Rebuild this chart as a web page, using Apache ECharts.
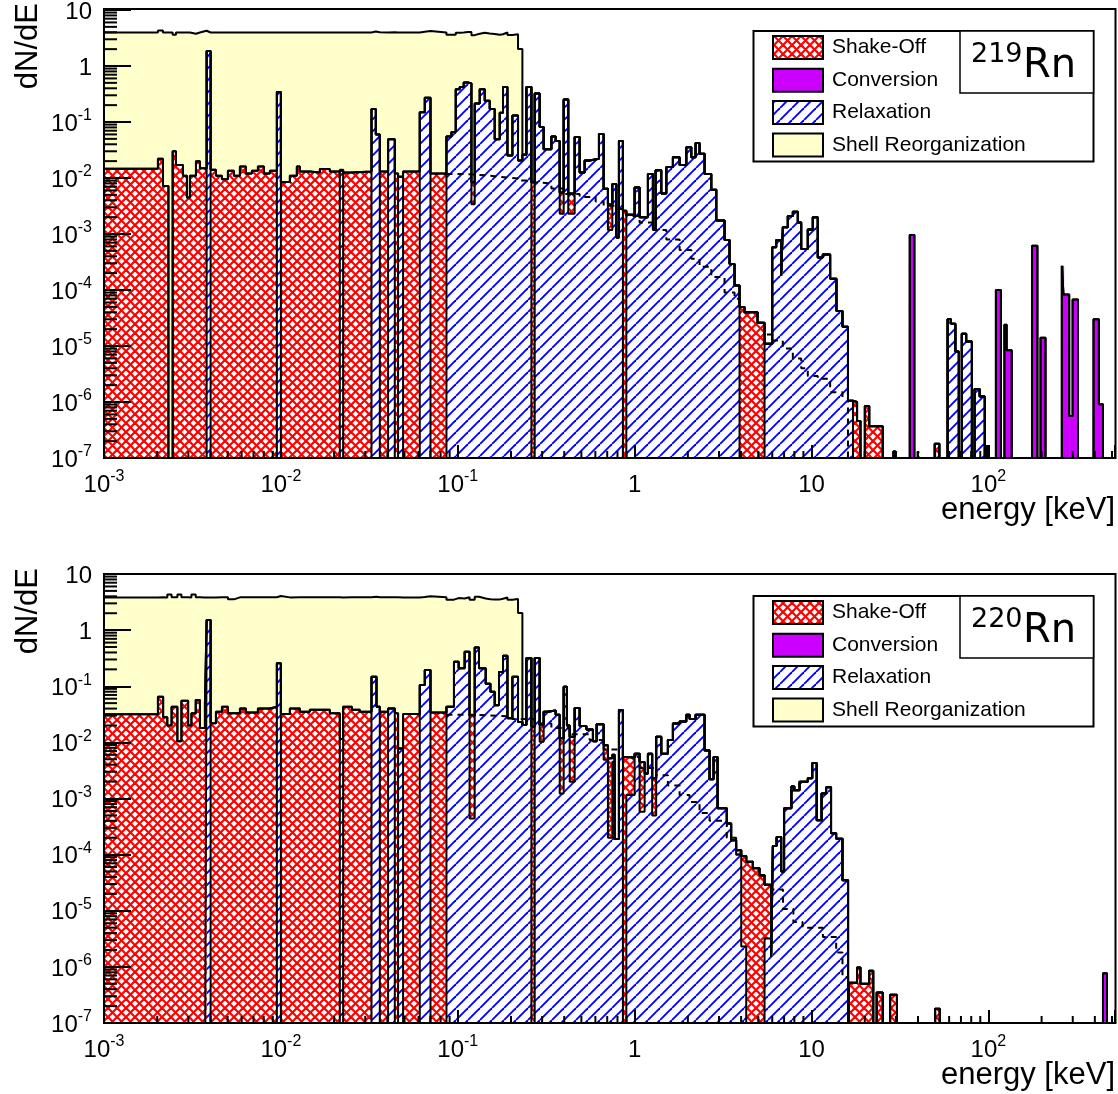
<!DOCTYPE html>
<html><head><meta charset="utf-8">
<script src="https://cdn.jsdelivr.net/npm/echarts@6/dist/echarts.min.js"></script>
<style>html,body{margin:0;padding:0;background:#fff}#c{width:1118px;height:1094px}</style>
</head><body><div id="c"></div>
<script>
// ---------------- data: histogram segments [E_low keV, E_high keV, dN/dE] ----------------
const legendNames = ['Shake-Off', 'Conversion', 'Relaxation', 'Shell Reorganization'];
const isotopeMass = ['219', '220'];
const xDecades = [0.001, 0.01, 0.1, 1, 10, 100];
const yDecades = [1e-7, 1e-6, 1e-5, 1e-4, 1e-3, 1e-2, 1e-1, 1];
const minorMultiples = [2, 3, 4, 5, 6, 7, 8, 9];

const relax219 = [
[0.003804,0.004007,1.86],[0.009493,0.01,0.345],[0.02154,0.02249,0.014],[0.03254,0.03441,0.17],
[0.03441,0.03625,0.06],[0.04039,0.04406,0.049],[0.04599,0.04909,0.0105],[0.06099,0.06511,0.15],
[0.06511,0.07013,0.27],[0.08632,0.09213,0.055],[0.09213,0.09743,0.066],[0.09743,0.1026,0.385],
[0.1026,0.1081,0.42],[0.1081,0.1143,0.51],[0.1143,0.1195,0.49],[0.1195,0.1247,0.0034],
[0.1247,0.1331,0.215],[0.1331,0.1421,0.385],[0.1421,0.1516,0.24],[0.1516,0.1618,0.17],
[0.1618,0.1727,0.049],[0.1727,0.1803,0.147],[0.1803,0.191,0.42],[0.191,0.2037,0.0251],
[0.2037,0.2192,0.13],[0.2192,0.232,0.0205],[0.232,0.2444,0.026],[0.2444,0.2609,0.42],
[0.2723,0.2905,0.323],[0.2905,0.306,0.081],[0.306,0.3384,0.0325],[0.3384,0.3578,0.055],
[0.3578,0.3771,0.046],[0.3771,0.3971,0.0023],[0.3971,0.4215,0.253],[0.4215,0.4581,0.0023],
[0.4581,0.4889,0.054],[0.4889,0.5218,0.0125],[0.5218,0.5569,0.0205],[0.5569,0.6286,0.022],
[0.6286,0.6681,0.061],[0.6681,0.7065,0.0064],[0.7065,0.7482,0.00118],[0.7482,0.788,0.0078],
[0.788,0.8153,0.00087],[0.8153,0.8586,0.046],[0.8977,1.0,0.0022],[1.0,1.067,0.0068],
[1.067,1.189,0.002],[1.189,1.269,0.0118],[1.269,1.314,0.00125],[1.314,1.415,0.0137],
[1.415,1.511,0.0053],[1.511,1.646,0.0157],[1.646,1.796,0.0234],[1.796,1.96,0.017],
[1.96,2.091,0.0354],[2.091,2.211,0.0234],[2.211,2.329,0.042],[2.329,2.486,0.027],
[2.486,2.713,0.0118],[2.713,2.895,0.0062],[2.895,3.225,0.00174],[3.225,3.441,0.00078],
[3.441,3.673,0.00029],[3.673,3.919,0.00012],[5.427,5.998,1.1e-5],[5.998,6.318,0.00058],
[6.318,6.742,0.00078],[6.742,6.884,0.00018],[6.884,7.346,0.00132],[7.346,7.843,0.0021],
[7.843,8.369,0.0025],[8.369,8.747,0.0016],[8.747,9.53,0.00054],[9.53,10.17,0.0012],
[10.17,10.85,0.002],[10.85,11.58,0.00038],[11.58,12.75,0.00043],[12.75,13.84,0.000159],
[13.84,14.97,4.2e-5],[14.97,16.08,2.2e-5],[16.08,17.16,1.05e-6],[58.83,61.48,3.0e-5],
[61.48,65.11,2.5e-5],[65.11,68.06,8e-6],[70.76,74.94,1.65e-5],[74.94,80.69,1.2e-5],
[83.56,89.28,1.7e-6],[89.28,95.43,1.25e-6]
];
const shake219 = [
[0.001,0.002018,0.0146],[0.002018,0.002154,0.022],[0.002154,0.002314,0.0072],[0.002444,0.002552,0.03],
[0.002552,0.002795,0.017],[0.002795,0.002944,0.011],[0.002944,0.00306,0.0045],[0.00306,0.00331,0.011],
[0.00331,0.003486,0.02],[0.003486,0.003804,0.015],[0.004007,0.004294,0.014],[0.004294,0.004642,0.011],
[0.004642,0.005018,0.0095],[0.005018,0.005427,0.0135],[0.005427,0.005867,0.011],[0.005867,0.006343,0.016],
[0.006343,0.006858,0.012],[0.006858,0.007416,0.0135],[0.007416,0.008017,0.016],[0.008017,0.00867,0.012],
[0.00867,0.009493,0.0135],[0.01,0.01124,0.0085],[0.01124,0.01231,0.011],[0.01231,0.0128,0.016],
[0.0128,0.01458,0.013],[0.01458,0.01661,0.0125],[0.01661,0.01891,0.0145],[0.01891,0.02154,0.013],
[0.02249,0.02518,0.0125],[0.02518,0.03254,0.013],[0.03625,0.04039,0.013],[0.04406,0.04599,0.012],
[0.04909,0.06099,0.013],[0.07013,0.08632,0.012],[0.1195,0.1247,0.005],[0.2609,0.2723,0.0084],
[0.3771,0.3971,0.0032],[0.4215,0.4581,0.003],[0.7065,0.7482,0.0022],[0.8586,0.8977,0.0026],
[3.919,4.182,4.95e-5],[4.182,4.954,4.0e-5],[4.954,5.427,2.6e-5],[17.16,18.10,1.0e-6],
[18.10,18.92,4.6e-7],[20.03,21.21,8.5e-7],[21.21,25.28,3.7e-7],[29.06,29.83,1.3e-7],
[39.92,40.64,1.3e-7],[49.73,52.87,1.8e-7],[98.33,100,1.7e-7]
];
const conv219 = [
[35.93,38.18,0.00096],[110.3,117.8,0.0001],[123.2,126.9,2.4e-5],[126.9,135.6,8.4e-6],
[176.6,189.4,0.00062],[197.2,210.5,1.4e-5],[260.2,266,0.00027],[266,286.5,8.3e-5],
[286.5,299.5,5.6e-7],[299.5,321.3,6.8e-5],[393.0,421.6,3.0e-5],[421.6,444.6,9.1e-7]
];
const shell219 = [
[0.001,0.002018,3.95],[0.002018,0.002154,4.3],[0.002154,0.002444,3.95],[0.002444,0.002552,3.6],
[0.002552,0.00306,3.95],[0.00306,0.00331,3.75],[0.00331,0.003486,3.95],[0.003486,0.003804,4.25],
[0.003804,0.004007,2.1],[0.004007,0.009493,3.95],[0.009493,0.01,3.6],[0.01,0.08632,3.95],
[0.08632,0.2192,3.55],[0.2192,0.232,2.0]
];
const dashed219 = [
[0.08632,0.1081,0.0118],[0.1081,0.1421,0.0112],[0.1421,0.1727,0.0105],[0.1727,0.2192,0.0098],
[0.2192,0.2609,0.009],[0.2609,0.2723,0.0084],[0.2723,0.3384,0.008],[0.3384,0.3971,0.0065],
[0.3971,0.4889,0.0052],[0.4889,0.6022,0.0046],[0.6022,0.6681,0.0038],[0.6681,0.788,0.0032],
[0.788,0.8586,0.0028],[0.8586,0.8977,0.0026],[0.8977,1.067,0.0021],[1.067,1.269,0.0016],
[1.269,1.511,0.00118],[1.511,1.796,0.0008],[1.796,2.091,0.00052],[2.091,2.329,0.00036],
[2.329,2.713,0.00026],[2.713,3.225,0.00017],[3.225,3.673,9e-5],[3.673,3.919,7e-5],
[3.919,4.182,4.95e-5],[4.182,4.954,4.0e-5],[4.954,5.427,2.6e-5],[5.427,5.998,1.6e-5],
[5.998,6.884,1.25e-5],[6.884,7.843,9e-6],[7.843,8.747,6e-6],[8.747,9.53,4e-6],
[9.53,10.85,2.9e-6],[10.85,12.75,2.6e-6],[12.75,14.97,1.5e-6],[14.97,16.08,1.2e-6]
];

const relax220 = [
[0.003804,0.004007,1.51],[0.009493,0.01,0.256],[0.02154,0.02249,0.0115],[0.03254,0.03473,0.148],
[0.03473,0.03625,0.043],[0.04039,0.04406,0.04],[0.04599,0.04909,0.0078],[0.06099,0.06511,0.105],
[0.06511,0.07013,0.195],[0.08632,0.0952,0.043],[0.0952,0.1012,0.274],[0.1012,0.1094,0.21],
[0.1094,0.1166,0.41],[0.1166,0.1247,0.00044],[0.1247,0.1319,0.49],[0.1319,0.1439,0.21],
[0.1439,0.153,0.111],[0.153,0.1618,0.08],[0.1618,0.1711,0.046],[0.1711,0.1803,0.18],
[0.1803,0.191,0.35],[0.191,0.2037,0.027],[0.2037,0.2192,0.148],[0.2192,0.232,0.023],
[0.232,0.2444,0.0203],[0.2444,0.2609,0.32],[0.2723,0.2905,0.32],[0.2905,0.306,0.0103],
[0.306,0.3225,0.035],[0.3225,0.3578,0.037],[0.3578,0.3771,0.031],[0.3771,0.3971,0.00123],
[0.3971,0.4143,0.098],[0.4143,0.4294,0.02],[0.4294,0.4581,0.00198],[0.4581,0.4889,0.041],
[0.4889,0.5336,0.0195],[0.5336,0.5812,0.017],[0.5812,0.61,0.0105],[0.61,0.6681,0.021],
[0.6681,0.7065,0.0049],[0.7065,0.7482,0.0002],[0.7482,0.7708,0.0045],[0.7708,0.8153,0.00019],
[0.8153,0.8586,0.0377],[0.8977,1.0,0.00115],[1.0,1.067,0.0063],[1.067,1.139,0.00058],
[1.139,1.189,0.0028],[1.189,1.257,0.0063],[1.257,1.324,0.0005],[1.324,1.415,0.0126],
[1.415,1.542,0.0063],[1.542,1.646,0.011],[1.646,1.796,0.0216],[1.796,1.96,0.0235],
[1.96,2.045,0.031],[2.045,2.211,0.026],[2.211,2.486,0.031],[2.486,2.653,0.0072],
[2.653,2.795,0.0022],[2.795,2.944,0.0055],[2.944,3.32,0.00067],[3.32,3.514,0.00036],
[3.514,3.75,0.00018],[3.75,4.007,0.0001],[4.007,4.276,2.3e-6],[5.427,5.92,3.2e-6],
[5.92,6.045,1.5e-6],[6.045,6.35,0.000142],[6.35,6.742,0.000207],[6.742,7.0,5e-5],
[7.0,7.7,0.00067],[7.7,8.0,0.00163],[8.0,8.56,0.0014],[8.56,9.53,0.00198],
[9.53,10.1,0.0023],[10.1,10.7,0.0043],[10.7,11.4,0.00041],[11.4,12.1,0.00123],
[12.1,12.9,0.00159],[12.9,13.79,0.00024],[13.79,14.97,0.000191],[14.97,16.1,3.5e-5]
];
const shake220 = [
[0.001,0.002018,0.0316],[0.002018,0.00216,0.065],[0.00216,0.00228,0.028],[0.00228,0.00241,0.02],
[0.00241,0.0026,0.043],[0.0026,0.00274,0.0105],[0.00274,0.00299,0.055],[0.00299,0.00312,0.02],
[0.00312,0.0033,0.033],[0.0033,0.003486,0.057],[0.003486,0.00372,0.018],[0.00372,0.003804,0.05],
[0.004007,0.004294,0.022],[0.004294,0.004642,0.035],[0.004642,0.005018,0.043],[0.005018,0.005867,0.033],
[0.005867,0.006343,0.04],[0.006343,0.007416,0.034],[0.007416,0.00867,0.04],[0.00867,0.009493,0.043],
[0.01,0.01124,0.032],[0.01124,0.0128,0.04],[0.0128,0.01458,0.035],[0.01458,0.01891,0.038],
[0.01891,0.02154,0.033],[0.02249,0.02518,0.043],[0.02518,0.02795,0.038],[0.02795,0.03254,0.035],
[0.03625,0.04039,0.035],[0.04406,0.04599,0.033],[0.04909,0.06099,0.032],[0.07013,0.08632,0.034],
[0.1166,0.1247,0.03],[0.2609,0.2723,0.019],[0.2905,0.306,0.01],[0.3771,0.3971,0.0106],
[0.4294,0.4581,0.0106],[0.6681,0.7065,0.004],[0.7065,0.7482,0.005],[0.7482,0.7708,0.0015],
[0.8586,0.8977,0.0055],[0.8977,1.0,0.0042],[1.067,1.139,0.0039],[1.257,1.324,0.0018],
[3.75,4.007,2e-5],[4.007,4.276,9.2e-5],[4.276,4.66,7.5e-5],[4.66,5.084,5.7e-5],
[5.084,5.427,4.3e-5],[5.427,5.92,2.6e-5],[16.29,18.10,5.2e-7],[18.10,18.92,9.7e-7],
[18.92,21.18,5e-7],[21.18,22.35,8.5e-7],[23.36,25.28,3.5e-7],[27.84,30.41,3.2e-7],
[50.0,53.13,1.8e-7]
];
const conv220 = [[444.6,468.5,7.7e-7]];
const shell220 = [
[0.001,0.00228,3.8],[0.00228,0.00241,4.3],[0.00241,0.0026,3.8],[0.0026,0.00274,4.3],
[0.00274,0.00312,3.8],[0.00312,0.0033,4.3],[0.0033,0.003804,3.8],[0.003804,0.004007,2.3],
[0.004007,0.005018,3.8],[0.005018,0.005427,3.5],[0.005427,0.08632,3.8],[0.08632,0.2192,3.45],
[0.2192,0.232,2.0]
];
const dashed220 = [
[0.08632,0.1247,0.031],[0.1247,0.2037,0.029],[0.2037,0.2723,0.026],[0.2723,0.3384,0.0216],
[0.3384,0.4294,0.018],[0.4294,0.5569,0.014],[0.5569,0.6681,0.011],[0.6681,0.8586,0.0075],
[0.8586,1.067,0.0055],[1.067,1.324,0.0035],[1.324,1.542,0.0026],[1.542,1.796,0.0017],
[1.796,2.045,0.00115],[2.045,2.329,0.00087],[2.329,2.653,0.00055],[2.653,3.32,0.0004],
[3.32,3.75,0.0002],[3.75,4.007,0.00012],[4.007,4.276,9.4e-5],[4.276,4.66,7.5e-5],
[4.66,5.084,5.7e-5],[5.084,5.427,4.3e-5],[5.427,5.92,2.9e-5],[5.92,6.9,2.4e-5],
[6.9,7.9,1.07e-5],[7.9,8.9,6.3e-6],[8.9,11.6,5.0e-6],[11.6,13.79,3.4e-6],
[13.79,14.97,1.8e-6],[14.97,16.1,6.6e-7]
];

// ---------------- layout / style ----------------
const XMIN = 0.001, XMAX = 520, YMIN = 1e-7, YMAX = 10, FLOOR = 1e-9;
const GRID_LEFT = 104, GRID_W = 1011.5, GRID_H = 449;
const panelTops = [9, 574];
const FONT = 'Liberation Sans, Arial, Helvetica, sans-serif';
const COL_PURPLE = '#cc00ff', COL_YELLOW = '#ffffcc';

function makeBlueHatch() {
  const p = 12, c = document.createElement('canvas'); c.width = p; c.height = p;
  const g = c.getContext('2d'); g.fillStyle = '#fff'; g.fillRect(0, 0, p, p);
  g.strokeStyle = '#0000ff'; g.lineWidth = 1.9;
  for (const k of [-1, 0, 1]) { g.beginPath(); g.moveTo(k * p, p); g.lineTo(k * p + p, 0); g.stroke(); }
  return c;
}
function makeRedCross() {
  const p = 9, c = document.createElement('canvas'); c.width = p; c.height = p;
  const g = c.getContext('2d'); g.fillStyle = '#fff'; g.fillRect(0, 0, p, p);
  g.strokeStyle = '#ff0000'; g.lineWidth = 2.2;
  for (const k of [-1, 0, 1]) {
    g.beginPath(); g.moveTo(k * p, 0); g.lineTo(k * p + p, p); g.stroke();
    g.beginPath(); g.moveTo(k * p, p); g.lineTo(k * p + p, 0); g.stroke();
  }
  return c;
}
const BLUE_PAT = { image: makeBlueHatch(), repeat: 'repeat' };
const RED_PAT = { image: makeRedCross(), repeat: 'repeat' };

function stackBins(R, S, C, Y) {
  const set = new Set();
  for (const arr of [R, S, C, Y]) for (const s of arr) { set.add(s[0]); set.add(s[1]); }
  const xs = Array.from(set).sort((a, b) => a - b);
  const at = (arr, m) => { for (const s of arr) if (m > s[0] && m < s[1]) return s[2]; return 0; };
  const bins = [];
  for (let i = 0; i < xs.length - 1; i++) {
    const a = xs[i], b = xs[i + 1], m = Math.sqrt(a * b);
    bins.push([a, b, at(R, m), at(S, m), at(C, m), at(Y, m)]);
  }
  return bins;
}

function expLabel(v) {
  const e = Math.log10(v), r = Math.round(e);
  if (Math.abs(e - r) > 1e-6) return '';
  if (r === 0) return '{b|1}';
  if (r === 1) return '{b|10}';
  return '{b|10}{s|' + r + '}';
}
const labelRich = {
  b: { fontSize: 24, fontFamily: FONT, color: '#000', lineHeight: 28, verticalAlign: 'bottom' },
  s: { fontSize: 16, fontFamily: FONT, color: '#000', lineHeight: 28, verticalAlign: 'top' }
};

const xMinor = [], yMinor = [];
for (const d of xDecades) for (const m of minorMultiples) if (d * m < XMAX) xMinor.push(d * m);
for (const d of yDecades) for (const m of minorMultiples) if (d * m < YMAX) yMinor.push(d * m);

const panels = [
  { R: relax219, S: shake219, C: conv219, Y: shell219, D: dashed219 },
  { R: relax220, S: shake220, C: conv220, Y: shell220, D: dashed220 }
];

const option = { animation: false, backgroundColor: '#fff', grid: [], xAxis: [], yAxis: [], series: [], graphic: [] };

panels.forEach((P, i) => {
  const top = panelTops[i], dy = top - 9;
  option.grid.push({ left: GRID_LEFT, top: top, width: GRID_W, height: GRID_H, show: false });
  option.xAxis.push({
    type: 'log', logBase: 10, gridIndex: i, min: XMIN, max: XMAX, z: 6,
    axisLine: { show: true, onZero: false, lineStyle: { color: '#000', width: 2 } },
    axisTick: { show: true, inside: true, length: 13, lineStyle: { color: '#000', width: 2 } },
    axisLabel: { show: true, interval: 0, margin: 11, formatter: expLabel, rich: labelRich, color: '#000' },
    splitLine: { show: false }
  });
  option.yAxis.push({
    type: 'log', logBase: 10, gridIndex: i, min: YMIN, max: YMAX, z: 6,
    axisLine: { show: true, onZero: false, lineStyle: { color: '#000', width: 2 } },
    axisTick: { show: true, inside: true, length: 27, lineStyle: { color: '#000', width: 2 } },
    axisLabel: { show: true, interval: 0, margin: 12, formatter: expLabel, rich: labelRich, color: '#000' },
    splitLine: { show: false }
  });

  const bins = stackBins(P.R, P.S, P.C, P.Y);
  const fillData = bins.filter(b => b[2] + b[3] + b[4] + b[5] > 0).map(b => b.concat([b[2] + b[3] + b[4] + b[5]]));
  option.series.push({
    type: 'custom', xAxisIndex: i, yAxisIndex: i, z: 2, clip: true, silent: true,
    data: fillData, encode: { x: [0, 1], y: 6 },
    renderItem: function (params, api) {
      const a = api.value(0), b = api.value(1);
      const r = api.value(2), s = api.value(3), c = api.value(4), y = api.value(5);
      const lv = [0, r, r + s, r + s + c, r + s + c + y];
      const fills = [BLUE_PAT, RED_PAT, COL_PURPLE, COL_YELLOW];
      const xa = api.coord([a, YMIN])[0], xb = api.coord([b, YMIN])[0];
      const py = v => api.coord([a, Math.max(v, YMIN)])[1];
      const children = [];
      for (let k = 0; k < 4; k++) {
        const lo = lv[k], hi = lv[k + 1];
        if (hi > lo && hi > YMIN) {
          const y0 = py(lo), y1 = py(hi);
          children.push({ type: 'rect', shape: { x: xa, y: y1, width: xb - xa + 0.6, height: y0 - y1 }, style: { fill: fills[k] } });
        }
      }
      return { type: 'group', children };
    }
  });

  // black outlines of each cumulative histogram
  for (let k = 1; k <= 4; k++) {
    const pts = [[bins[0][0], FLOOR]];
    bins.forEach(b => {
      let v = 0; for (let j = 0; j < k; j++) v += b[2 + j];
      const vv = v > 0 ? v : FLOOR;
      pts.push([b[0], vv], [b[1], vv]);
    });
    pts.push([bins[bins.length - 1][1], FLOOR]);
    option.series.push({
      type: 'line', xAxisIndex: i, yAxisIndex: i, data: pts, symbol: 'none', showSymbol: false,
      lineStyle: { color: '#000', width: 2 }, clip: true, z: 4, silent: true
    });
  }
  // dashed histogram
  const dpts = [];
  P.D.forEach(s => dpts.push([s[0], s[2]], [s[1], s[2]]));
  dpts.push([P.D[P.D.length - 1][1], FLOOR]);
  option.series.push({
    type: 'line', xAxisIndex: i, yAxisIndex: i, data: dpts, symbol: 'none', showSymbol: false,
    lineStyle: { color: '#000', width: 2, type: [6, 5] }, clip: true, z: 3, silent: true
  });
  // minor ticks
  option.series.push({
    type: 'custom', xAxisIndex: i, yAxisIndex: i, z: 7, clip: false, silent: true,
    data: xMinor.map(v => [v, YMIN]), encode: { x: 0, y: 1 },
    renderItem: (p, api) => { const q = api.coord([api.value(0), YMIN]);
      return { type: 'line', shape: { x1: q[0], y1: q[1], x2: q[0], y2: q[1] - 7 }, style: { stroke: '#000', lineWidth: 2 } }; }
  });
  option.series.push({
    type: 'custom', xAxisIndex: i, yAxisIndex: i, z: 7, clip: false, silent: true,
    data: yMinor.map(v => [XMIN, v]), encode: { x: 0, y: 1 },
    renderItem: (p, api) => { const q = api.coord([XMIN, api.value(1)]);
      return { type: 'line', shape: { x1: q[0], y1: q[1], x2: q[0] + 13, y2: q[1] }, style: { stroke: '#000', lineWidth: 2 } }; }
  });

  // frame
  option.graphic.push({ type: 'rect', z: 20, silent: true, shape: { x: GRID_LEFT, y: top, width: GRID_W, height: GRID_H },
    style: { fill: 'none', stroke: '#000', lineWidth: 2 } });
  // axis titles
  option.graphic.push({ type: 'text', z: 20, x: 28, y: top - 6, rotation: Math.PI / 2,
    style: { text: 'dN/dE', font: '31px ' + FONT, fill: '#000', align: 'right', verticalAlign: 'middle' } });
  option.graphic.push({ type: 'text', z: 20, x: 1115, y: 510 + dy,
    style: { text: 'energy [keV]', font: '31px ' + FONT, fill: '#000', align: 'right', verticalAlign: 'middle' } });
  // legend
  option.graphic.push({ type: 'rect', z: 20, shape: { x: 753.5, y: 31 + dy, width: 340, height: 130.5 },
    style: { fill: '#fff', stroke: '#000', lineWidth: 2 } });
  const swFill = [RED_PAT, COL_PURPLE, BLUE_PAT, COL_YELLOW];
  const rowY = [47.5, 80.3, 112.5, 145];
  legendNames.forEach((nm, j) => {
    option.graphic.push({ type: 'rect', z: 21, shape: { x: 773, y: rowY[j] - 11.5 + dy, width: 50, height: 23 },
      style: { fill: swFill[j], stroke: '#000', lineWidth: 2 } });
    option.graphic.push({ type: 'text', z: 21, x: 832, y: rowY[j] + dy,
      style: { text: nm, font: '21px ' + FONT, fill: '#000', align: 'left', verticalAlign: 'middle' } });
  });
  option.graphic.push({ type: 'rect', z: 22, shape: { x: 960, y: 31 + dy, width: 133.5, height: 62 },
    style: { fill: '#fff', stroke: '#000', lineWidth: 1.5 } });
  option.graphic.push({ type: 'text', z: 23, x: 971, y: 55 + dy,
    style: { text: isotopeMass[i], font: '27px DejaVu Sans', fill: '#000', align: 'left', verticalAlign: 'middle' } });
  option.graphic.push({ type: 'text', z: 23, x: 1023, y: 67 + dy,
    style: { text: 'Rn', font: '40px DejaVu Sans', fill: '#000', align: 'left', verticalAlign: 'middle' } });
});

const chart = echarts.init(document.getElementById('c'), null, { renderer: 'canvas' });
chart.setOption(option);
</script></body></html>
